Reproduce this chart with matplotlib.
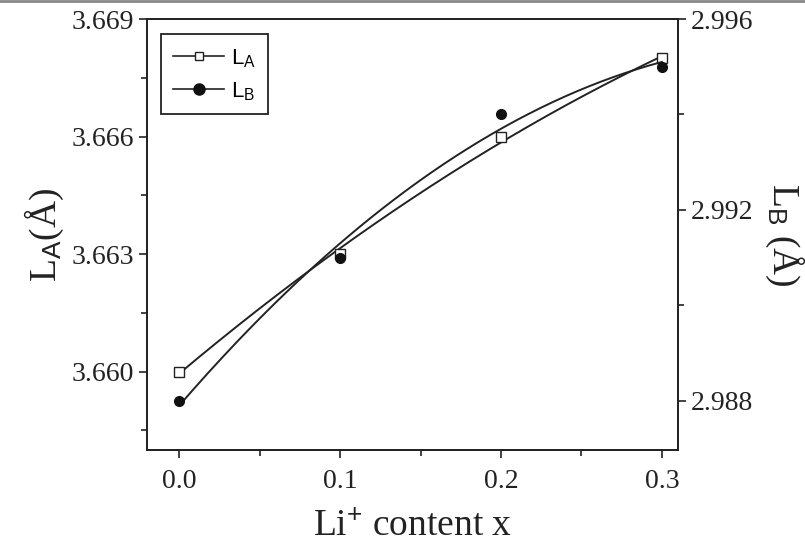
"""Lattice parameters L_A and L_B versus Li+ content."""

import matplotlib

matplotlib.use("Agg")
import matplotlib.pyplot as plt
import numpy as np
from matplotlib.ticker import FormatStrFormatter, MultipleLocator

x_content = [0.0, 0.1, 0.2, 0.3]
l_a = [3.660, 3.663, 3.666, 3.668]
l_b = [2.988, 2.991, 2.994, 2.995]

plt.rcParams["font.family"] = ["Liberation Serif", "DejaVu Serif"]
plt.rcParams["mathtext.fontset"] = "custom"
plt.rcParams["mathtext.rm"] = "Liberation Serif"
plt.rcParams["mathtext.it"] = "Liberation Serif"

fig = plt.figure(figsize=(8.05, 5.54), dpi=100)
ax = fig.add_axes([0.1826, 0.1877, 0.6596, 0.778])
ax2 = ax.twinx()

# quadratic trend lines, as in the original figure
xs = np.linspace(min(x_content), max(x_content), 200)
fit_a = np.polyval(np.polyfit(x_content, l_a, 2), xs)
fit_b = np.polyval(np.polyfit(x_content, l_b, 2), xs)

ax.plot(xs, fit_a, color="#222222", lw=1.4)
ax.plot(x_content, l_a, "s", ms=7, mfc="white", mec="#222222", mew=1.0)
ax2.plot(xs, fit_b, color="#222222", lw=1.4)
ax2.plot(x_content, l_b, "o", ms=7, color="#111111")

ax.set_xlim(-0.02, 0.31)
ax.set_ylim(3.658, 3.669)
ax2.set_ylim(2.98697, 2.996)

ax.xaxis.set_major_locator(MultipleLocator(0.1))
ax.xaxis.set_minor_locator(MultipleLocator(0.05))
ax.yaxis.set_major_locator(MultipleLocator(0.003))
ax.yaxis.set_minor_locator(MultipleLocator(0.0015))
ax2.yaxis.set_major_locator(MultipleLocator(0.004))
ax2.yaxis.set_minor_locator(MultipleLocator(0.002))
ax.xaxis.set_major_formatter(FormatStrFormatter("%.1f"))
ax.yaxis.set_major_formatter(FormatStrFormatter("%.3f"))
ax2.yaxis.set_major_formatter(FormatStrFormatter("%.3f"))

for a in (ax, ax2):
    for side in a.spines.values():
        side.set_linewidth(1.3)
        side.set_color("#222222")
    a.tick_params(which="major", direction="out", length=6, width=1.2, labelsize=20, colors="#222222")
    a.tick_params(which="minor", direction="out", length=4, width=1.2, colors="#222222")
ax.tick_params(axis="x", pad=8)

ax.set_xlabel("Li$^{+}$ content x", fontsize=27, labelpad=10, color="#222222")
ax.set_ylabel("L$_{\\rm A}$(Å)", fontsize=27, labelpad=4, color="#222222")
ax2.set_ylabel("L$_{\\rm B}$ (Å)", fontsize=27, rotation=270, labelpad=38, color="#222222")

handles = [
    plt.Line2D([], [], color="#222222", lw=1.2, marker="s", ms=6, mfc="white", mec="#222222"),
    plt.Line2D([], [], color="#222222", lw=1.2, marker="o", ms=8, mfc="#111111", mec="#111111"),
]
leg = ax.legend(
    handles,
    ["L$_{\\rm A}$", "L$_{\\rm B}$"],
    loc="upper left",
    bbox_to_anchor=(0.005, 0.99),
    fancybox=False,
    edgecolor="#222222",
    framealpha=1,
    prop={"family": "Liberation Sans", "size": 16},
    handlelength=2.3,
    handletextpad=0.3,
    borderpad=0.55,
    labelspacing=0.5,
)
leg.get_frame().set_linewidth(1.3)
plt.rcParams["mathtext.rm"] = "Liberation Sans"

fig.add_artist(plt.Line2D([0, 1], [0.998, 0.998], color="#888888", lw=2, transform=fig.transFigure))

fig.savefig("out.png", dpi=100, facecolor="white")
